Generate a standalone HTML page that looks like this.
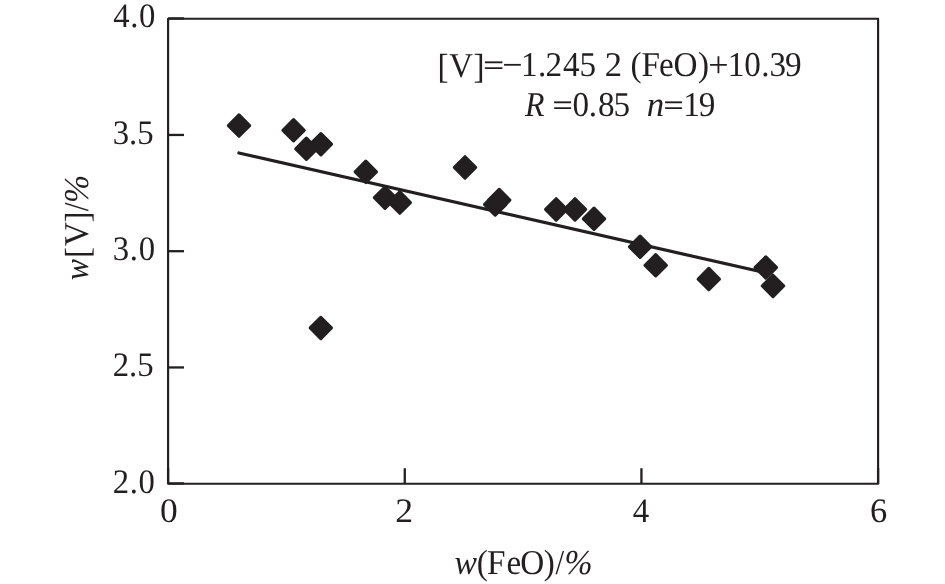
<!DOCTYPE html>
<html lang="en"><head><meta charset="utf-8"><title>w[V] vs w(FeO)</title>
<style>html,body{margin:0;padding:0;background:#fff;}svg{display:block;}text{font-family:"Liberation Serif","Times New Roman",serif;fill:#231f20;text-rendering:geometricPrecision;}</style></head><body>
<svg width="945" height="584" viewBox="0 0 945 584">
<rect width="945" height="584" fill="#fff"/>
<rect x="168.10" y="18.70" width="710.00" height="465.00" fill="none" stroke="#231f20" stroke-width="2.15" stroke-linejoin="round"/>
<g stroke="#231f20" stroke-width="2.3"><line x1="168.10" y1="18.40" x2="184.00" y2="18.40"/><line x1="168.10" y1="134.95" x2="184.00" y2="134.95"/><line x1="168.10" y1="251.20" x2="184.00" y2="251.20"/><line x1="168.10" y1="367.45" x2="184.00" y2="367.45"/><line x1="168.10" y1="483.40" x2="184.00" y2="483.40"/><line x1="168.10" y1="483.70" x2="168.10" y2="468.20"/><line x1="404.77" y1="483.70" x2="404.77" y2="468.20"/><line x1="641.43" y1="483.70" x2="641.43" y2="468.20"/><line x1="878.10" y1="483.70" x2="878.10" y2="468.20"/></g>
<text transform="translate(113.25 27.00) scale(0.9540 1)" style="font-size:34.30px;letter-spacing:0.577px;" xml:space="preserve">4.0</text>
<text transform="translate(112.68 143.95) scale(0.9540 1)" style="font-size:34.30px;letter-spacing:0.052px;" xml:space="preserve">3.5</text>
<text transform="translate(112.80 260.20) scale(0.9540 1)" style="font-size:34.30px;letter-spacing:0.708px;" xml:space="preserve">3.0</text>
<text transform="translate(112.68 376.45) scale(0.9540 1)" style="font-size:34.30px;letter-spacing:0.052px;" xml:space="preserve">2.5</text>
<text transform="translate(112.65 492.70) scale(0.9540 1)" style="font-size:34.30px;letter-spacing:0.655px;" xml:space="preserve">2.0</text>
<text transform="translate(159.95 522.00) scale(1.0338 1)" style="font-size:34.30px;" xml:space="preserve">0</text>
<text transform="translate(395.30 522.00) scale(1.0421 1)" style="font-size:34.30px;" xml:space="preserve">2</text>
<text transform="translate(632.83 522.00) scale(0.9604 1)" style="font-size:34.30px;" xml:space="preserve">4</text>
<text transform="translate(869.92 522.00) scale(1.0060 1)" style="font-size:34.30px;" xml:space="preserve">6</text>
<text transform="translate(454.50 573.70) scale(0.9676 1)" style="font-size:34.80px;font-style:italic;" xml:space="preserve">w</text>
<text transform="translate(476.85 573.70) scale(0.9540 1)" x="0.00 10.56 31.21 45.39 70.18" style="font-size:34.80px;">(FeO)</text>
<text transform="translate(555.40 573.70) scale(0.8904 1)" style="font-size:34.80px;" xml:space="preserve">/</text>
<text transform="translate(564.50 573.70) scale(0.9681 1)" style="font-size:34.80px;font-style:italic;" xml:space="preserve">%</text>
<text transform="translate(87.80 280.18) rotate(-90) scale(0.9131 1)" style="font-size:34.80px;font-style:italic;" xml:space="preserve">w</text>
<text transform="translate(87.80 258.02) rotate(-90) scale(0.9540 1)" x="0.00 12.60 37.16" style="font-size:34.80px;"><tspan dy="1.40">[</tspan><tspan dy="-1.40">V</tspan><tspan dy="1.40">]</tspan></text>
<text transform="translate(87.80 211.35) rotate(-90) scale(0.9010 1)" style="font-size:34.80px;" xml:space="preserve">/</text>
<text transform="translate(87.80 203.00) rotate(-90) scale(0.9681 1)" style="font-size:34.80px;font-style:italic;" xml:space="preserve">%</text>
<text transform="translate(437.52 76.60) scale(0.9540 1)" x="0.00 12.08 37.63" style="font-size:34.80px;"><tspan dy="1.40">[</tspan><tspan dy="-1.40">V</tspan><tspan dy="1.40">]</tspan></text>
<text transform="translate(483.25 74.90) scale(1.0000 0.8000)" style="font-size:36.70px;stroke:#231f20;stroke-width:0.45px;" xml:space="preserve">=</text>
<text transform="translate(502.33 76.90) scale(0.9855 1)" style="font-size:36.70px;" xml:space="preserve">−</text>
<text transform="translate(520.90 76.30) scale(0.9540 1)" x="0.00 17.85 25.81 44.16 61.40" style="font-size:34.80px;">1.245</text>
<text transform="translate(604.67 76.30) scale(0.9936 1)" style="font-size:34.80px;" xml:space="preserve">2</text>
<text transform="translate(630.40 76.30) scale(0.9540 1)" x="0.00 11.61 30.06 45.07 70.81" style="font-size:34.80px;">(FeO)</text>
<text transform="translate(708.33 76.90) scale(0.9855 1)" style="font-size:36.70px;" xml:space="preserve">+</text>
<text transform="translate(727.75 76.30) scale(0.9540 1)" x="0.00 17.24 35.19 43.68 60.14" style="font-size:34.80px;">10.39</text>
<text transform="translate(525.00 115.90) scale(0.9158 1)" style="font-size:34.80px;font-style:italic;" xml:space="preserve">R</text>
<text transform="translate(552.38 114.50) scale(0.9771 0.8000)" style="font-size:36.70px;stroke:#231f20;stroke-width:0.45px;" xml:space="preserve">=</text>
<text transform="translate(572.60 115.90) scale(0.9540 1)" x="0.00 17.06 26.62 42.95" style="font-size:34.80px;">0.85</text>
<text transform="translate(646.77 115.90) scale(1.0017 1)" style="font-size:34.80px;font-style:italic;" xml:space="preserve">n</text>
<text transform="translate(663.45 114.50) scale(0.9714 0.8000)" style="font-size:36.70px;stroke:#231f20;stroke-width:0.45px;" xml:space="preserve">=</text>
<text transform="translate(683.30 115.90) scale(0.9540 1)" x="0.00 16.22" style="font-size:34.80px;">19</text>
<line x1="238.90" y1="153.00" x2="766.00" y2="272.92" stroke="#231f20" stroke-width="3.2" stroke-linecap="round"/>
<g fill="#231f20" stroke="#231f20" stroke-width="3.2" stroke-linejoin="round"><path d="M239.00 115.00L249.60 125.60L239.00 136.20L228.40 125.60Z"/><path d="M293.55 119.70L304.15 130.30L293.55 140.90L282.95 130.30Z"/><path d="M306.40 138.20L317.00 148.80L306.40 159.40L295.80 148.80Z"/><path d="M320.90 133.60L331.50 144.20L320.90 154.80L310.30 144.20Z"/><path d="M365.80 161.25L376.40 171.85L365.80 182.45L355.20 171.85Z"/><path d="M385.00 187.10L395.60 197.70L385.00 208.30L374.40 197.70Z"/><path d="M399.80 192.00L410.40 202.60L399.80 213.20L389.20 202.60Z"/><path d="M465.00 156.80L475.60 167.40L465.00 178.00L454.40 167.40Z"/><path d="M495.20 193.90L505.80 204.50L495.20 215.10L484.60 204.50Z"/><path d="M499.20 189.50L509.80 200.10L499.20 210.70L488.60 200.10Z"/><path d="M556.20 198.80L566.80 209.40L556.20 220.00L545.60 209.40Z"/><path d="M575.00 198.80L585.60 209.40L575.00 220.00L564.40 209.40Z"/><path d="M594.00 208.20L604.60 218.80L594.00 229.40L583.40 218.80Z"/><path d="M640.10 236.20L650.70 246.80L640.10 257.40L629.50 246.80Z"/><path d="M655.70 254.70L666.30 265.30L655.70 275.90L645.10 265.30Z"/><path d="M708.80 268.50L719.40 279.10L708.80 289.70L698.20 279.10Z"/><path d="M765.80 256.90L776.40 267.50L765.80 278.10L755.20 267.50Z"/><path d="M773.00 275.30L783.60 285.90L773.00 296.50L762.40 285.90Z"/><path d="M320.80 317.35L331.40 327.95L320.80 338.55L310.20 327.95Z"/></g>
</svg></body></html>
